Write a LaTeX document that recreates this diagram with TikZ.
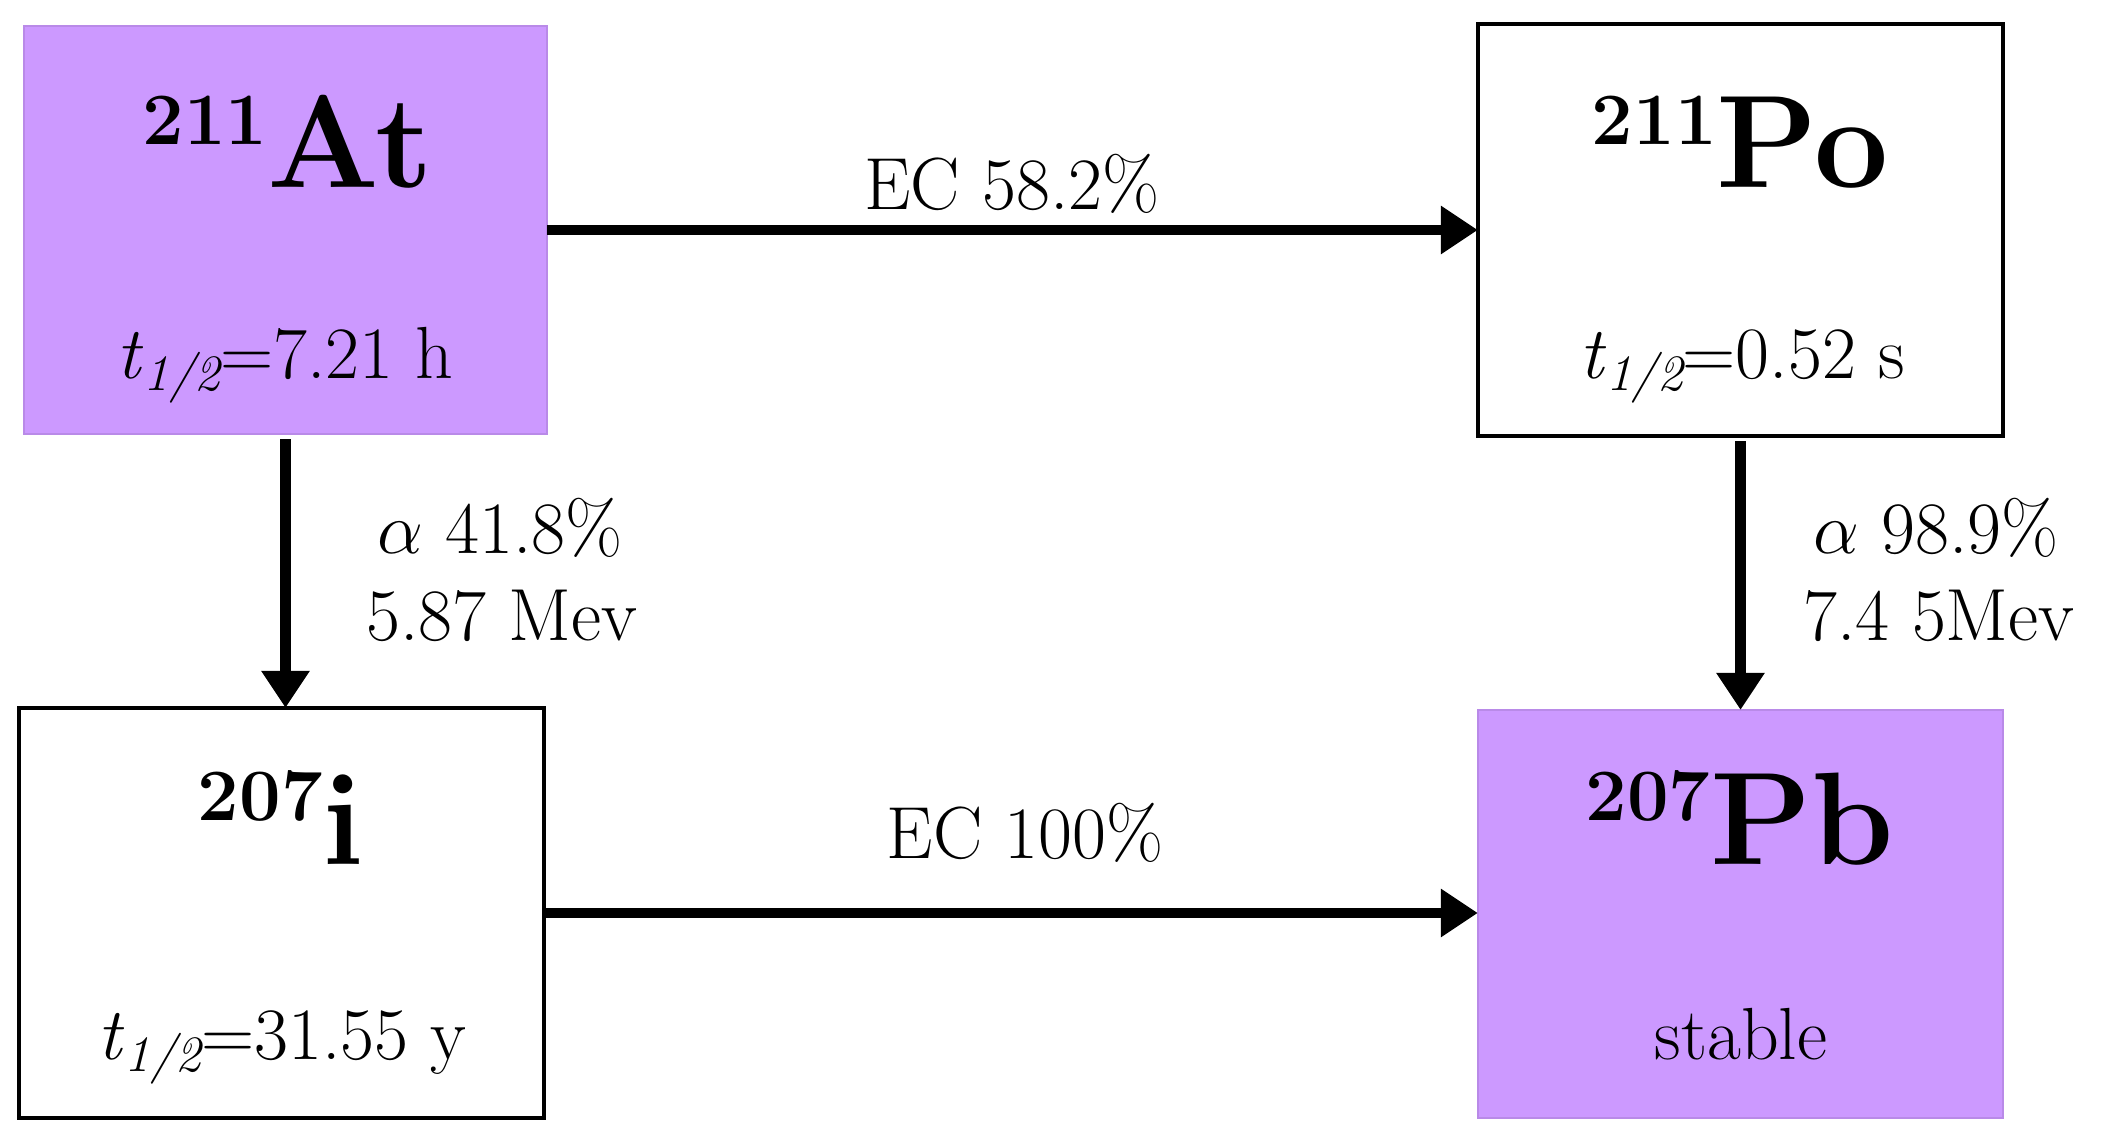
\documentclass[tikz,border=0pt]{standalone}
\usetikzlibrary{arrows.meta}
\definecolor{lilac}{HTML}{CC99FF}
\definecolor{lilacedge}{HTML}{B98AE8}
\tikzset{
  lbl/.style={font=\fontsize{21}{24}\selectfont, inner sep=0pt, anchor=base},
  iso/.style={font=\fontsize{37.5}{42}\selectfont\bfseries, inner sep=0pt, anchor=base},
  arr/.style={line width=3.1pt, -{Triangle[length=0.37cm,width=0.46cm]}},
  purplebox/.style={fill=lilac, draw=lilacedge, line width=0.5pt, inner sep=0pt, outer sep=0pt},
  whitebox/.style={fill=white, draw=black, line width=1.3pt, inner sep=0pt, outer sep=0pt},
}
\newcommand{\supnum}[1]{\raisebox{12.5pt}{\fontsize{21}{24}\selectfont\bfseries #1}}
\newcommand{\thalf}{\textit{t}\raisebox{-3.5pt}{\fontsize{14.5}{16}\selectfont\itshape 1/2}}
\begin{document}
\begin{tikzpicture}[x=0.01cm,y=-0.01cm]
\useasboundingbox (0,0) rectangle (2101,1140);
% boxes
\node[purplebox, minimum width=5.23cm, minimum height=4.08cm] (at) at (285.5,230) {};
\node[whitebox, minimum width=5.25cm, minimum height=4.12cm] (po) at (1740.5,230) {};
\node[whitebox, minimum width=5.25cm, minimum height=4.10cm] (ii) at (281.5,913) {};
\node[purplebox, minimum width=5.25cm, minimum height=4.08cm] (pb) at (1740.5,914) {};
% box texts
\node[iso] (atname) at (288,188) {\supnum{211}At};
\node[lbl] (atthalf) at (285,378) {\thalf=7.21 h};
\node[iso] (poname) at (1740,188) {\supnum{211}Po};
\node[lbl] (pothalf) at (1742,378) {\thalf=0.52 s};
\node[iso] (iname) at (281,864) {\supnum{207}i};
\node[lbl] (ithalf) at (282,1059) {\thalf=31.55 y};
\node[iso] (pbname) at (1740,864) {\supnum{207}Pb};
\node[lbl] (pbstable) at (1741,1059) {stable};
% arrows
\draw[arr] (at.east) -- (po.west);
\draw[arr] (ii.east) -- (ii.east -| pb.west);
\draw[arr] ([yshift=-0.05cm]at.south) -- (at.south |- ii.north);
\draw[arr] ([yshift=-0.05cm]po.south) -- (po.south |- pb.north);
% arrow labels
\node[lbl] (ec1) at (1012,210) {EC 58.2\%};
\node[lbl] (ec2) at (1025,858) {EC 100\%};
\node[lbl] (a1) at (500,553) {$\alpha$ 41.8\%};
\node[lbl] (e1) at (502,640) {5.87 Mev};
\node[lbl] (a2) at (1936,553) {$\alpha$ 98.9\%};
\node[lbl] (e2) at (1939,640) {7.4 5Mev};
\end{tikzpicture}
\end{document}
